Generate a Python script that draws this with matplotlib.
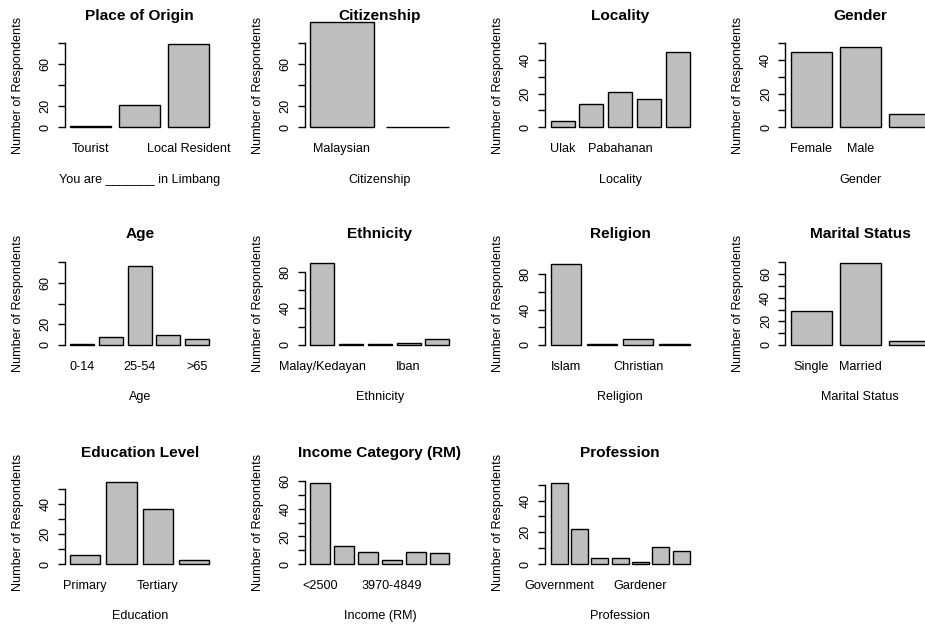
import matplotlib
matplotlib.use("Agg")
import matplotlib.pyplot as plt

plt.rcParams['font.family'] = ['Liberation Sans', 'DejaVu Sans']

# survey counts (hidden category names left blank)
origin_names = ["Tourist", "", "Local Resident"]
origin_counts = [1, 21, 79]
citizen_names = ["Malaysian", ""]
citizen_counts = [100, 0]
locality_names = ["Ulak", "", "Pabahanan", "", ""]
locality_counts = [4, 14, 21, 17, 45]
gender_names = ["Female", "Male", ""]
gender_counts = [45, 48, 8]
age_names = ["0-14", "", "25-54", "", ">65"]
age_counts = [1, 8, 76, 10, 6]
ethnic_names = ["Malay/Kedayan", "", "", "Iban", ""]
ethnic_counts = [90, 1, 1, 2, 7]
religion_names = ["Islam", "", "Christian", ""]
religion_counts = [92, 1, 7, 1]
marital_names = ["Single", "Married", ""]
marital_counts = [29, 69, 3]
edu_names = ["Primary", "", "Tertiary", ""]
edu_counts = [6, 55, 37, 3]
income_names = ["<2500", "", "", "3970-4849", "", ""]
income_counts = [59, 13, 9, 3, 9, 8]
prof_names = ["Government", "", "", "", "Gardener", "", ""]
prof_counts = [51, 22, 4, 4, 1, 11, 8]

titles = ["Place of Origin", "Citizenship", "Locality", "Gender",
          "Age", "Ethnicity", "Religion", "Marital Status",
          "Education Level", "Income Category (RM)", "Profession"]
xlabels = ["You are _______ in Limbang", "Citizenship", "Locality", "Gender",
           "Age", "Ethnicity", "Religion", "Marital Status",
           "Education", "Income (RM)", "Profession"]

# y scale limit, tick step, last tick and labelled ticks per panel
ymax = [80, 80, 50, 50, 81, 92, 95, 71, 56, 61, 53]
ystep = [20, 20, 10, 10, 20, 20, 20, 10, 10, 10, 10]
ytop = [80, 80, 50, 50, 80, 80, 80, 70, 50, 60, 50]
yshown = [[0, 20, 60], [0, 20, 60], [0, 20, 40], [0, 20, 40],
          [0, 20, 60], [0, 40, 80], [0, 40, 80], [0, 20, 40, 60],
          [0, 20, 40], [0, 20, 40, 60], [0, 20, 40]]

names = [origin_names, citizen_names, locality_names, gender_names,
         age_names, ethnic_names, religion_names, marital_names,
         edu_names, income_names, prof_names]
counts = [origin_counts, citizen_counts, locality_counts, gender_counts,
          age_counts, ethnic_counts, religion_counts, marital_counts,
          edu_counts, income_counts, prof_counts]

W, H = 925, 626
fig = plt.figure(figsize=(W / 100, H / 100), dpi=100)

col_x = [64.6 + 240.2 * c for c in range(4)]
zero_y = [127.3, 345.0, 564.0]
plot_w = 150.2
scale_px = 84.0
plot_h = scale_px * 1.08
fs = 9.1

for k in range(len(titles)):
    r, c = divmod(k, 4)
    bottom_px = zero_y[r] + 0.04 * scale_px
    ax = fig.add_axes([col_x[c] / W, 1 - bottom_px / H, plot_w / W, plot_h / H])
    ax.patch.set_visible(False)

    n = len(counts[k])
    xs = [0.7 + 1.2 * i for i in range(n)]
    span = 1.2 * n - 0.2
    ax.set_xlim(0.2 - 0.04 * span, 1.2 * n + 0.04 * span)
    ax.set_ylim(-0.04 * ymax[k], 1.04 * ymax[k])

    ax.bar(xs, counts[k], width=1.0, color='#bebebe', edgecolor='black',
           linewidth=1.0, clip_on=False)

    for s in ['top', 'right', 'bottom']:
        ax.spines[s].set_visible(False)
    ax.spines['left'].set_bounds(0, ytop[k])
    ax.spines['left'].set_linewidth(1.0)

    ticks = list(range(0, ytop[k] + 1, ystep[k]))
    ax.set_yticks(ticks)
    ax.set_yticklabels([str(t) if t in yshown[k] else '' for t in ticks],
                       rotation=90, va='center', fontsize=fs)
    ax.tick_params(axis='y', length=5, width=1.0, pad=4.5)
    ax.set_xticks([])

    tr = ax.get_xaxis_transform()
    for x, nm in zip(xs, names[k]):
        if nm:
            ax.text(x, -18.6 / plot_h, nm, transform=tr, ha='center', va='center',
                    fontsize=fs, clip_on=False)

    ax.text(0.5, -49.1 / plot_h, xlabels[k], transform=ax.transAxes,
            ha='center', va='center', fontsize=fs)
    ax.text(-47 / plot_w, 0.5, "Number of Respondents", transform=ax.transAxes,
            ha='center', va='center', rotation=90, fontsize=fs)
    ax.text(0.5, 1 + 23.6 / plot_h, titles[k], transform=ax.transAxes,
            ha='center', va='center', fontsize=11.1, fontweight='bold', zorder=5)

fig.savefig("out.png", dpi=100)
